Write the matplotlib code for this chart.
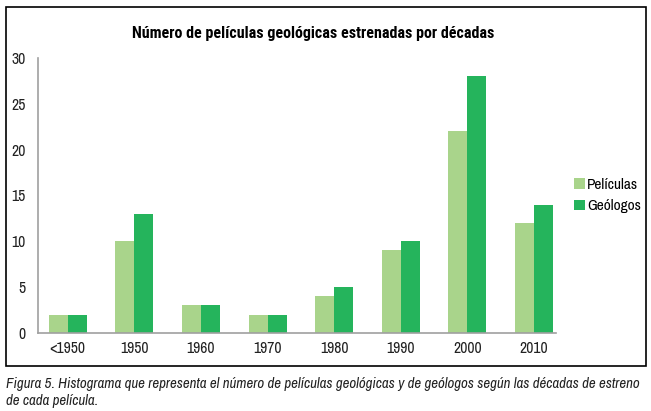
import numpy as np
import matplotlib.pyplot as plt
from matplotlib.patches import Rectangle

# Data
decadas = ['<1950', '1950', '1960', '1970', '1980', '1990', '2000', '2010']
peliculas = [2, 10, 3, 2, 4, 9, 22, 12]
geologos = [2, 13, 3, 2, 5, 10, 28, 14]

plt.rcParams['font.family'] = ['Archivo Narrow', 'Roboto Condensed', 'DejaVu Sans']

color_pel = '#a9d48b'
color_geo = '#25b45c'

fig = plt.figure(figsize=(6.51, 4.11), dpi=100)
ax = fig.add_axes([0.058, 0.19, 0.796, 0.669])

x = np.arange(len(decadas))
w = 0.285
ax.bar(x - w / 2, peliculas, w, color=color_pel, label='Películas')
ax.bar(x + w / 2, geologos, w, color=color_geo, label='Geólogos')

ax.set_xlim(-0.45, 7.33)
ax.set_ylim(0, 30)
ax.set_yticks(range(0, 31, 5))
ax.set_xticks(x)
ax.set_xticklabels(decadas)
ax.tick_params(length=0, labelsize=11.3, colors='#222222', pad=6)
ax.tick_params(axis='y', pad=9)
for s in ['top', 'right']:
    ax.spines[s].set_visible(False)
for s in ['left', 'bottom']:
    ax.spines[s].set_color('#a0a0a0')
    ax.spines[s].set_linewidth(1.2)

ax.legend(loc='center left', bbox_to_anchor=(1.005, 0.5), frameon=False,
          handlelength=0.7, handleheight=0.7, handletextpad=0.15,
          fontsize=11, labelspacing=0.5, borderaxespad=0.6)

fig.text(0.481, 0.918, 'Número de películas geológicas estrenadas por décadas',
         ha='center', va='center', fontsize=11.5, fontweight='bold',
         family=['Roboto Condensed', 'DejaVu Sans'])

# caja alrededor del gráfico
fig.patches.append(Rectangle((6 / 651, 1 - 366 / 411), 640 / 651, 359 / 411,
                             transform=fig.transFigure, fill=False,
                             edgecolor='black', linewidth=1.2))

fig.text(6 / 651, 1 - 384 / 411,
         'Figura 5. Histograma que representa el número de películas geológicas y de geólogos según las décadas de estreno',
         ha='left', va='center', fontsize=10.75, style='italic', color='#222222')
fig.text(6 / 651, 1 - 401 / 411, 'de cada película.',
         ha='left', va='center', fontsize=10.75, style='italic', color='#222222')

fig.savefig('out.png', dpi=100)
